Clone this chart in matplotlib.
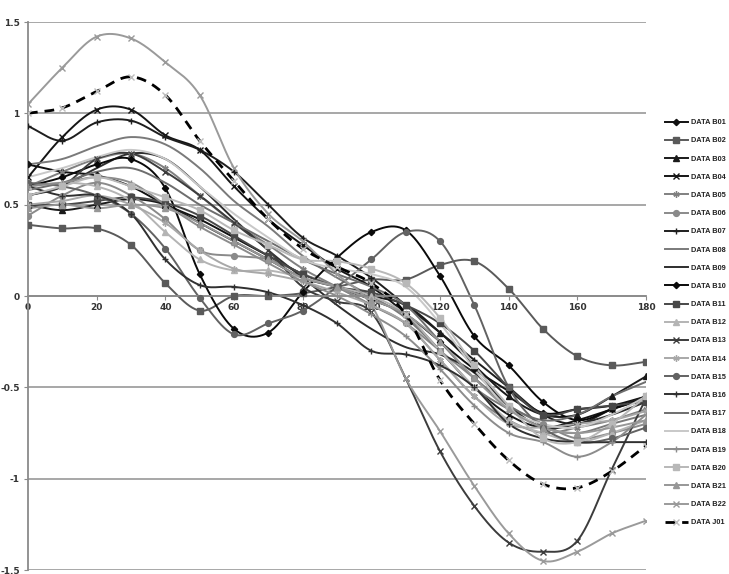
import numpy as np
import matplotlib
matplotlib.use("Agg")
import matplotlib.pyplot as plt
from matplotlib.lines import Line2D

x_vals = [0, 10, 20, 30, 40, 50, 60, 70, 80, 90, 100, 110, 120, 130, 140, 150, 160, 170, 180]

B01 = [0.72, 0.68, 0.66, 0.60, 0.50, 0.42, 0.32, 0.22, 0.12, 0.05, -0.02, -0.10, -0.25, -0.40, -0.52, -0.64, -0.62, -0.60, -0.55]
B02 = [0.39, 0.37, 0.37, 0.28, 0.07, -0.08, 0.00, 0.00, 0.015, 0.05, 0.09, 0.09, 0.17, 0.19, 0.04, -0.18, -0.33, -0.38, -0.36]
B03 = [0.50, 0.47, 0.50, 0.53, 0.50, 0.40, 0.30, 0.20, 0.10, 0.05, 0.00, -0.05, -0.20, -0.38, -0.55, -0.65, -0.65, -0.55, -0.44]
B04 = [0.65, 0.87, 1.02, 1.02, 0.88, 0.80, 0.60, 0.42, 0.28, 0.15, 0.05, -0.10, -0.30, -0.50, -0.65, -0.72, -0.68, -0.62, -0.56]
B05 = [0.60, 0.68, 0.75, 0.78, 0.70, 0.55, 0.40, 0.28, 0.15, 0.05, -0.05, -0.15, -0.35, -0.55, -0.68, -0.75, -0.72, -0.68, -0.62]
B06 = [0.44, 0.55, 0.62, 0.55, 0.42, 0.25, 0.22, 0.20, 0.12, 0.05, -0.05, -0.15, -0.30, -0.45, -0.60, -0.70, -0.78, -0.75, -0.70]
B07 = [0.93, 0.85, 0.95, 0.96, 0.87, 0.80, 0.68, 0.50, 0.32, 0.22, 0.10, -0.05, -0.20, -0.35, -0.50, -0.65, -0.70, -0.62, -0.55]
B08 = [0.72, 0.75, 0.82, 0.87, 0.83, 0.70, 0.52, 0.38, 0.22, 0.10, 0.00, -0.12, -0.30, -0.50, -0.62, -0.72, -0.75, -0.70, -0.65]
B09 = [0.55, 0.60, 0.70, 0.78, 0.75, 0.60, 0.42, 0.25, 0.10, -0.05, -0.18, -0.28, -0.32, -0.42, -0.60, -0.72, -0.70, -0.65, -0.58]
B10 = [0.60, 0.65, 0.72, 0.75, 0.59, 0.12, -0.18, -0.20, 0.02, 0.21, 0.35, 0.36, 0.11, -0.22, -0.38, -0.58, -0.68, -0.62, -0.56]
B11 = [0.50, 0.50, 0.52, 0.54, 0.51, 0.44, 0.33, 0.22, 0.12, 0.05, 0.02, -0.05, -0.15, -0.30, -0.50, -0.65, -0.62, -0.60, -0.58]
B12 = [0.60, 0.62, 0.60, 0.52, 0.35, 0.20, 0.14, 0.14, 0.10, 0.05, 0.00, -0.10, -0.30, -0.50, -0.68, -0.75, -0.80, -0.75, -0.68]
B13 = [0.55, 0.60, 0.75, 0.78, 0.68, 0.55, 0.40, 0.25, 0.05, -0.03, -0.09, -0.45, -0.85, -1.15, -1.35, -1.40, -1.34, -0.95, -0.56]
B14 = [0.50, 0.52, 0.55, 0.50, 0.40, 0.25, 0.15, 0.12, 0.08, 0.02, -0.05, -0.15, -0.35, -0.55, -0.70, -0.72, -0.70, -0.68, -0.63]
B15 = [0.62, 0.60, 0.55, 0.45, 0.26, -0.01, -0.21, -0.15, -0.08, 0.05, 0.20, 0.35, 0.30, -0.05, -0.50, -0.72, -0.80, -0.78, -0.72]
B16 = [0.60, 0.55, 0.55, 0.45, 0.20, 0.06, 0.05, 0.02, -0.05, -0.15, -0.30, -0.32, -0.38, -0.50, -0.70, -0.78, -0.80, -0.80, -0.80]
B17 = [0.58, 0.62, 0.68, 0.70, 0.62, 0.50, 0.40, 0.30, 0.20, 0.12, 0.05, -0.05, -0.25, -0.45, -0.60, -0.68, -0.65, -0.55, -0.47]
B18 = [0.65, 0.70, 0.76, 0.80, 0.75, 0.60, 0.45, 0.32, 0.20, 0.15, 0.12, 0.05, -0.15, -0.40, -0.62, -0.70, -0.72, -0.65, -0.55]
B19 = [0.60, 0.62, 0.65, 0.62, 0.50, 0.38, 0.28, 0.18, 0.08, 0.00, -0.10, -0.22, -0.40, -0.60, -0.75, -0.80, -0.88, -0.80, -0.65]
B20 = [0.55, 0.60, 0.65, 0.60, 0.54, 0.47, 0.36, 0.28, 0.20, 0.19, 0.15, 0.07, -0.12, -0.38, -0.60, -0.78, -0.80, -0.70, -0.55]
B21 = [0.48, 0.50, 0.48, 0.50, 0.48, 0.40, 0.30, 0.20, 0.10, 0.05, -0.02, -0.10, -0.25, -0.45, -0.62, -0.72, -0.75, -0.72, -0.68]
B22 = [1.05, 1.25, 1.42, 1.41, 1.28, 1.10, 0.70, 0.45, 0.30, 0.12, -0.05, -0.45, -0.74, -1.04, -1.30, -1.45, -1.40, -1.30, -1.23]
J01 = [1.00, 1.03, 1.12, 1.20, 1.10, 0.85, 0.63, 0.42, 0.26, 0.16, 0.07, -0.10, -0.46, -0.70, -0.90, -1.03, -1.05, -0.96, -0.82]

series_names = ["DATA B01", "DATA B02", "DATA B03", "DATA B04", "DATA B05", "DATA B06",
                "DATA B07", "DATA B08", "DATA B09", "DATA B10", "DATA B11", "DATA B12",
                "DATA B13", "DATA B14", "DATA B15", "DATA B16", "DATA B17", "DATA B18",
                "DATA B19", "DATA B20", "DATA B21", "DATA B22", "DATA J01"]
series_values = [B01, B02, B03, B04, B05, B06, B07, B08, B09, B10, B11, B12,
                 B13, B14, B15, B16, B17, B18, B19, B20, B21, B22, J01]

y_ticks = [-1.5, -1, -0.5, 0, 0.5, 1, 1.5]
y_tick_labels = ["-1.5", "-1", "-0.5", "0", "0.5", "1", "1.5"]
x_ticks = [0, 20, 40, 60, 80, 100, 120, 140, 160, 180]

styles = [
    dict(color="#111111", marker="D", ms=3.2),
    dict(color="#5a5a5a", marker="s", ms=4.2),
    dict(color="#1a1a1a", marker="^", ms=4.2),
    dict(color="#151515", marker="x", ms=4.2),
    dict(color="#808080", marker=(6, 2, 0), ms=4.5),
    dict(color="#8a8a8a", marker="o", ms=4.2),
    dict(color="#1e1e1e", marker="+", ms=4.5),
    dict(color="#7a7a7a", marker=None, ms=0),
    dict(color="#2e2e2e", marker=None, ms=0),
    dict(color="#0a0a0a", marker="D", ms=3.2),
    dict(color="#484848", marker="s", ms=4.2),
    dict(color="#b4b4b4", marker="^", ms=4.2),
    dict(color="#3c3c3c", marker="x", ms=4.2),
    dict(color="#a8a8a8", marker=(6, 2, 0), ms=4.5),
    dict(color="#626262", marker="o", ms=4.2),
    dict(color="#303030", marker="+", ms=4.5),
    dict(color="#6e6e6e", marker=None, ms=0),
    dict(color="#c8c8c8", marker=None, ms=0),
    dict(color="#8c8c8c", marker="+", ms=4),
    dict(color="#b8b8b8", marker="s", ms=4.2),
    dict(color="#979797", marker="^", ms=4.2),
    dict(color="#9a9a9a", marker="x", ms=4.2),
    dict(color="#000000", marker="x", ms=4.2),
]


def smooth(xs, ys, n=24):
    xs = np.asarray(xs, float)
    ys = np.asarray(ys, float)
    px = np.concatenate([[2 * xs[0] - xs[1]], xs, [2 * xs[-1] - xs[-2]]])
    py = np.concatenate([[ys[0]], ys, [ys[-1]]])
    ox, oy = [], []
    t = np.linspace(0, 1, n, endpoint=False)
    for i in range(1, len(px) - 2):
        p0x, p1x, p2x, p3x = px[i - 1], px[i], px[i + 1], px[i + 2]
        p0y, p1y, p2y, p3y = py[i - 1], py[i], py[i + 1], py[i + 2]
        if i == 1:
            p0y = p1y - (p2y - p1y)
        if i == len(px) - 3:
            p3y = p2y + (p2y - p1y)
        c1x, c1y = p1x + (p2x - p0x) / 6, p1y + (p2y - p0y) / 6
        c2x, c2y = p2x - (p3x - p1x) / 6, p2y - (p3y - p1y) / 6
        bx = (1 - t) ** 3 * p1x + 3 * (1 - t) ** 2 * t * c1x + 3 * (1 - t) * t ** 2 * c2x + t ** 3 * p2x
        by = (1 - t) ** 3 * p1y + 3 * (1 - t) ** 2 * t * c1y + 3 * (1 - t) * t ** 2 * c2y + t ** 3 * p2y
        ox.extend(bx)
        oy.extend(by)
    ox.append(xs[-1])
    oy.append(ys[-1])
    return np.array(ox), np.array(oy)


fig = plt.figure(figsize=(7.29, 5.74), dpi=100)
ax = fig.add_axes([28 / 729, 4 / 574, (646 - 28) / 729, (570 - 22) / 574])

for yt in y_ticks:
    ax.axhline(yt, color="#a0a0a0", lw=1.3, zorder=0)

handles = []
for name, vals, st in zip(series_names, series_values, styles):
    sx, sy = smooth(x_vals, vals)
    is_dash = name.endswith("J01")
    ls = (0, (3.5, 2.5)) if is_dash else "-"
    lw = 2.0 if is_dash else 1.4
    ax.plot(sx, sy, color=st["color"], lw=lw, ls=ls, zorder=2)
    mcol = "#bdbdbd" if is_dash else st["color"]
    if st["marker"] is not None:
        ax.plot(x_vals, vals, ls="none", marker=st["marker"], ms=st["ms"],
                color=mcol, mec=mcol, mew=1.0, zorder=3)
    handles.append(Line2D([0], [0], color=st["color"], lw=lw, ls=ls,
                          marker=st["marker"] if st["marker"] is not None else "",
                          ms=st["ms"], mec=mcol, mfc=mcol, mew=1.0))

ax.set_xlim(0, 180)
ax.set_ylim(-1.5, 1.5)
ax.spines["top"].set_visible(False)
ax.spines["right"].set_visible(False)
ax.spines["bottom"].set_position(("data", 0))
ax.spines["bottom"].set_color("#8a8a8a")
ax.spines["left"].set_color("#8a8a8a")
ax.spines["bottom"].set_linewidth(1.3)
ax.spines["left"].set_linewidth(1.3)
ax.set_xticks(x_ticks)
ax.set_xticklabels([str(v) for v in x_ticks])
ax.set_yticks(y_ticks)
ax.set_yticklabels(y_tick_labels)
ax.tick_params(axis="x", direction="out", length=3, color="#8a8a8a", labelsize=6.5,
               labelcolor="#333333", pad=2)
ax.tick_params(axis="y", direction="out", length=3, color="#8a8a8a", labelsize=6.5,
               labelcolor="#333333", pad=3)
for lab in ax.get_xticklabels() + ax.get_yticklabels():
    lab.set_fontweight("bold")

leg = fig.legend(handles, series_names, loc="upper left", bbox_to_anchor=(665 / 729, 1 - 119 / 574),
                 frameon=False, prop={"family": "Liberation Sans", "size": 5.3, "weight": "bold"},
                 handlelength=3.1, handletextpad=0.4,
                 labelspacing=1.5, borderpad=0, borderaxespad=0)
for t in leg.get_texts():
    t.set_color("#222222")

fig.savefig("out.png", dpi=100)
